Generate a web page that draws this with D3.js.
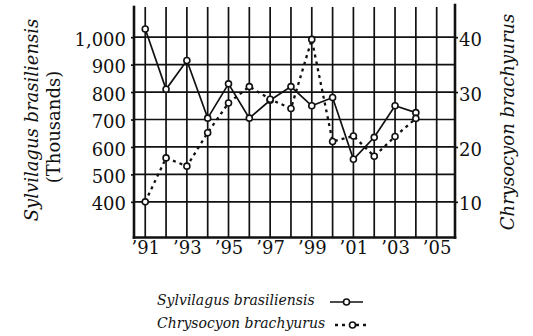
<!DOCTYPE html>
<html>
<head>
<meta charset="utf-8">
<script src="https://cdn.jsdelivr.net/npm/d3@7"></script>
<style>
  html, body { margin: 0; padding: 0; background: #fff; }
  svg { display: block; }
  text { font-family: "DejaVu Serif", serif; fill: #111; }
</style>
</head>
<body>
<svg id="chart" width="533" height="336"></svg>
<script>
// Population estimates, 1991–2004
const years = [1991, 1992, 1993, 1994, 1995, 1996, 1997, 1998, 1999, 2000, 2001, 2002, 2003, 2004];
// Sylvilagus brasiliensis, thousands (left axis)
const sylvilagus = [1030, 810, 915, 705, 830, 705, 770, 820, 750, 780, 555, 635, 750, 725];
// Chrysocyon brachyurus (right axis)
const chrysocyon = [10, 18, 16.5, 22.6, 28, 31, 28.7, 27, 39.6, 21, 22, 18.3, 21.9, 25.2];

const leftTicks = [400, 500, 600, 700, 800, 900, 1000];
const rightTicks = [10, 20, 30, 40];
const yearLabels = [1991, 1993, 1995, 1997, 1999, 2001, 2003, 2005];
const gridYears = d3.range(1991, 2006);

const legendItems = [
  { name: "Sylvilagus brasiliensis", dashed: false },
  { name: "Chrysocyon brachyurus", dashed: true }
];

const svg = d3.select("#chart");
const plot = { left: 134, right: 455, top: 7, bottom: 237.5 };

const x = d3.scaleLinear().domain([1990.46, 2005.88]).range([plot.left, plot.right]);
const yL = d3.scaleLinear().domain([270, 1110]).range([plot.bottom, plot.top]);
const yR = d3.scaleLinear().domain([3.5, 45.5]).range([plot.bottom, plot.top]);

// grid
const grid = svg.append("g").attr("stroke", "#111").attr("stroke-width", 1.7);
grid.selectAll("line.v").data(gridYears).join("line")
  .attr("x1", d => x(d)).attr("x2", d => x(d))
  .attr("y1", plot.top).attr("y2", plot.bottom);
grid.selectAll("line.h").data(leftTicks).join("line")
  .attr("x1", plot.left).attr("x2", plot.right)
  .attr("y1", d => yL(d)).attr("y2", d => yL(d));

// axes
const axisLeft = svg.append("g").attr("transform", `translate(${plot.left},0)`)
  .call(d3.axisLeft(yL).tickValues(leftTicks).tickFormat(d3.format(",")).tickSize(3).tickPadding(5));
const axisRight = svg.append("g").attr("transform", `translate(${plot.right},0)`)
  .call(d3.axisRight(yR).tickValues(rightTicks).tickSize(3).tickPadding(1));
const axisBottom = svg.append("g").attr("transform", `translate(0,${plot.bottom})`)
  .call(d3.axisBottom(x).tickValues(yearLabels).tickFormat(d => "\u2019" + String(d).slice(2)).tickSize(0).tickPadding(4));

[axisLeft, axisRight, axisBottom].forEach(g => {
  g.select(".domain").remove();
  g.selectAll(".tick line").attr("stroke", "#111").attr("stroke-width", 1.7);
  g.selectAll(".tick text").attr("font-size", 18).attr("font-family", "DejaVu Serif").attr("fill", "#111");
});
axisLeft.selectAll(".tick text").attr("dy", "0.45em");
axisRight.selectAll(".tick text").attr("dy", "0.45em");

// axis frame lines
const frame = svg.append("g").attr("stroke", "#111").attr("stroke-width", 2.6).attr("stroke-linecap", "square");
frame.append("line").attr("x1", plot.left).attr("x2", plot.left).attr("y1", plot.top).attr("y2", plot.bottom);
frame.append("line").attr("x1", plot.right).attr("x2", plot.right).attr("y1", plot.top - 2).attr("y2", plot.bottom);
frame.append("line").attr("x1", plot.left).attr("x2", plot.right).attr("y1", plot.bottom).attr("y2", plot.bottom);

// series
function drawSeries(values, yScale, dashed) {
  const pts = years.map((yr, i) => [x(yr), yScale(values[i])]);
  svg.append("path")
    .attr("d", d3.line()(pts))
    .attr("fill", "none").attr("stroke", "#111")
    .attr("stroke-width", dashed ? 2.3 : 1.7)
    .attr("stroke-dasharray", dashed ? "3,4" : null);
  svg.append("g").selectAll("circle").data(pts).join("circle")
    .attr("cx", d => d[0]).attr("cy", d => d[1]).attr("r", 3)
    .attr("fill", "#fff").attr("stroke", "#111").attr("stroke-width", 1.6);
}
drawSeries(sylvilagus, yL, false);
drawSeries(chrysocyon, yR, true);

// axis titles
svg.append("text").attr("transform", "translate(38,120) rotate(-90)")
  .attr("text-anchor", "middle").attr("font-size", 18).attr("font-style", "italic")
  .text("Sylvilagus brasiliensis");
svg.append("text").attr("transform", "translate(60,127) rotate(-90)")
  .attr("text-anchor", "middle").attr("font-size", 18)
  .text("(Thousands)");
svg.append("text").attr("transform", "translate(514,122) rotate(-90)")
  .attr("text-anchor", "middle").attr("font-size", 18).attr("font-style", "italic")
  .text("Chrysocyon brachyurus");

// legend
const legend = svg.append("g");
legendItems.forEach((item, i) => {
  const by = 305 + i * 23;
  legend.append("text").attr("x", 157).attr("y", by)
    .attr("font-size", 14).attr("font-style", "italic").text(item.name);
  const x0 = item.dashed ? 335 : 330, x1 = item.dashed ? 370 : 363;
  const cy = by - 3;
  legend.append("line").attr("x1", x0).attr("x2", x1).attr("y1", cy).attr("y2", cy)
    .attr("stroke", "#111").attr("stroke-width", item.dashed ? 2.3 : 1.7)
    .attr("stroke-dasharray", item.dashed ? "3,4" : null);
  legend.append("circle").attr("cx", (x0 + x1) / 2).attr("cy", cy).attr("r", 3)
    .attr("fill", "#fff").attr("stroke", "#111").attr("stroke-width", 1.6);
});
</script>
</body>
</html>
